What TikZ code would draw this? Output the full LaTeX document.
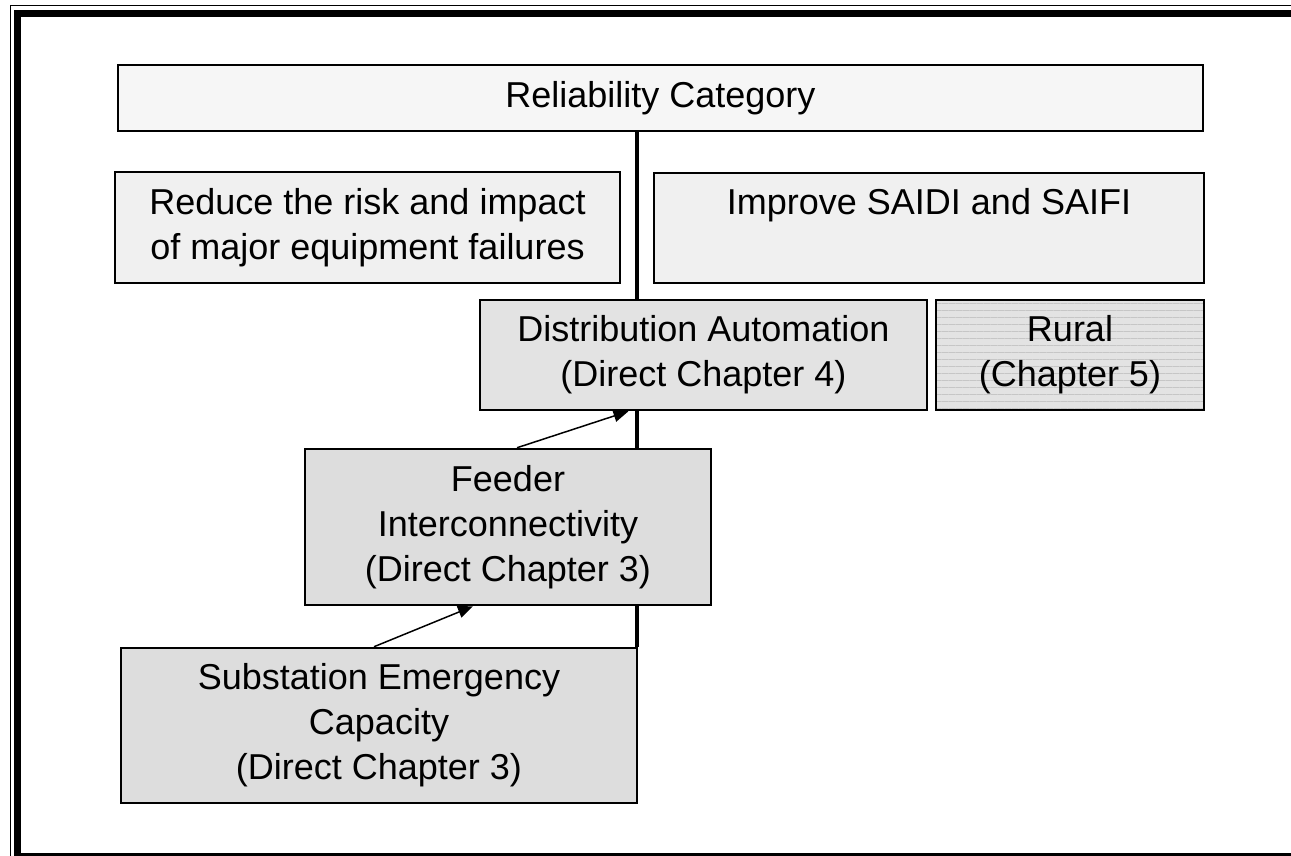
\documentclass[tikz,border=0pt]{standalone}
\usepackage{fontspec}
\setmainfont{Liberation Sans}
\usetikzlibrary{calc,backgrounds,arrows.meta,patterns.meta}
\begin{document}
\begin{tikzpicture}[x=1pt,y=-1pt,
  box/.style={draw=black,line width=2.5pt,rectangle,align=center,inner sep=0pt,
    font=\fontsize{36}{45}\selectfont},
  trunk/.style={line width=3.5pt,black},
  link/.style={line width=1.5pt,-{Triangle[length=15pt,width=12pt]}}]
\useasboundingbox (0,0) rectangle (1291,856);
% frame
\draw[line width=1.2pt] (10.5,5.5) -- (1300,5.5);
\draw[line width=1.2pt] (10.5,5.5) -- (10.5,870);
\draw[line width=7pt] (17.5,14) rectangle (1300,856);
% boxes
\node[box,fill=gray!7,minimum width=1085,minimum height=66] (rel) at (660.5,98) {Reliability Category};
\node[box,fill=gray!12,minimum width=505,minimum height=111] (reduce) at (367.5,227.5) {Reduce the risk and impact\\of major equipment failures};
\node[box,fill=gray!12,minimum width=550,minimum height=110] (improve) at (929,228) {Improve SAIDI and SAIFI\\\phantom{g}};
\node[box,fill=gray!22,minimum width=447,minimum height=110] (da) at (703.5,355) {Distribution Automation\\(Direct Chapter 4)};
\node[box,preaction={fill=gray!22},pattern={Lines[angle=0,distance=7pt,line width=0.7pt]},pattern color=gray!45,minimum width=268,minimum height=110] (rural) at (1070,355) {};
\node[font=\fontsize{36}{45}\selectfont,align=center] (ruraltext) at (rural.center) {Rural\\(Chapter 5)};
\node[box,fill=gray!27,minimum width=406,minimum height=156] (feeder) at (508,527) {Feeder\\Interconnectivity\\(Direct Chapter 3)};
\node[box,fill=gray!27,minimum width=516,minimum height=155] (sub) at (379,725.5) {Substation Emergency\\Capacity\\(Direct Chapter 3)};
% trunk
\begin{scope}[on background layer]
\draw[trunk] (637,0 |- rel.south) -- (637,0 |- sub.north);
\end{scope}
% arrows
\draw[link] ($(sub.north)+(-5,0)$) -- ($(feeder.south)+(-35,0)$);
\draw[link] ($(feeder.north)+(9,0)$) -- ($(da.south)+(-75,0)$);
\end{tikzpicture}
\end{document}
